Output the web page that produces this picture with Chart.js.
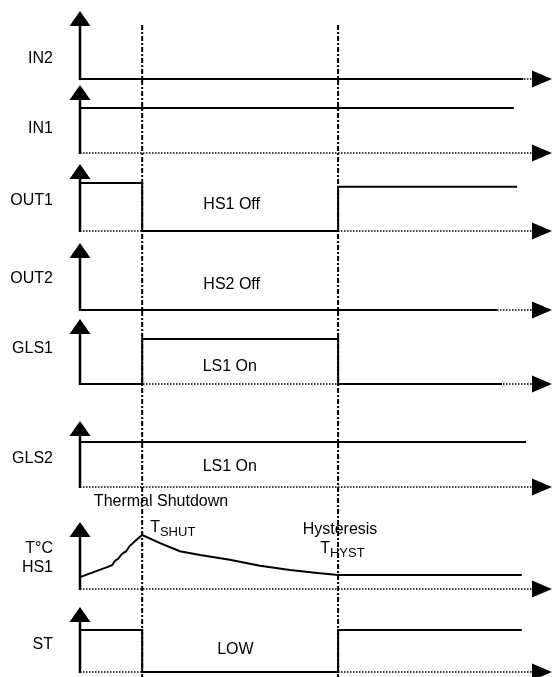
<!DOCTYPE html>
<html>
<head>
<meta charset="utf-8">
<script src="https://cdn.jsdelivr.net/npm/chart.js@4"></script>
<style>
  html, body { margin: 0; padding: 0; background: #fff; }
  #wrap { position: relative; width: 553px; height: 677px; }
</style>
</head>
<body>
<div id="wrap"><canvas id="timing"></canvas></div>
<script>
// time runs 0..100 (arbitrary units), levels: 0 = low, 1 = high
const shutdownTime = 13.2;
const hysteresisTime = 54.8;
const markerTimes = [shutdownTime, hysteresisTime];

const signalNames = [['IN2'], ['IN1'], ['OUT1'], ['OUT2'], ['GLS1'], ['GLS2'], ['T°C', 'HS1'], ['ST']];

const in2Times = [0, 94.1];
const in2Levels = [0, 0];
const in1Times = [0, 92.1];
const in1Levels = [1, 1];
const out1Times = [0, shutdownTime, hysteresisTime, 92.8];
const out1Levels = [1, 0, 0.92, 0.92];
const out2Times = [0, 88.5];
const out2Levels = [0, 0];
const gls1Times = [0, shutdownTime, hysteresisTime, 89.6];
const gls1Levels = [0, 1, 0, 0];
const gls2Times = [0, 94.7];
const gls2Levels = [1, 1];
const tempTimes = [0, 5.9, 6.8, 7.4, 8.1, 8.9, 9.8, 10.6, 11.7, shutdownTime, 17.0, 21.2, 25.5, 31.8, 38.2, 44.6, 49.9, hysteresisTime, 93.8];
const tempLevels = [0.22, 0.41, 0.44, 0.52, 0.56, 0.65, 0.70, 0.80, 0.89, 1, 0.85, 0.70, 0.63, 0.54, 0.43, 0.35, 0.30, 0.26, 0.26];
const stTimes = [0, shutdownTime, hysteresisTime, 93.8];
const stLevels = [1, 0, 1, 1];

// layout: pixel rows of each panel (arrow tip, low level, high level, label baselines)
const CHART_H = 677;
const panels = [
    { id: 'in2',  tip: 11,  base: 79,  high: 54,  labelY: [63] },
    { id: 'in1',  tip: 85,  base: 153, high: 108, labelY: [133] },
    { id: 'out1', tip: 164, base: 231, high: 183, labelY: [205] },
    { id: 'out2', tip: 243, base: 310, high: 262, labelY: [283] },
    { id: 'gls1', tip: 319, base: 384, high: 339, labelY: [353] },
    { id: 'gls2', tip: 421, base: 487, high: 442, labelY: [463] },
    { id: 'temp', tip: 522, base: 589, high: 535, labelY: [553, 572] },
    { id: 'st',   tip: 607, base: 672, high: 630, labelY: [649] }
];

const notes = [
    { panel: 'out1', text: 'HS1 Off', t: 32.2, level: 0.46 },
    { panel: 'out2', text: 'HS2 Off', t: 32.2, level: 0.44 },
    { panel: 'gls1', text: 'LS1 On', t: 31.8, level: 0.29 },
    { panel: 'gls2', text: 'LS1 On', t: 31.8, level: 0.36 },
    { panel: 'st', text: 'LOW', t: 33.0, level: 0.43 },
    { panel: 'temp', text: 'Thermal Shutdown', t: 17.2, level: 1.54 },
    { panel: 'temp', text: 'Hysteresis', t: 55.2, level: 1.02 },
    { panel: 'temp', text: 'T', sub: 'SHUT', t: 14.9, level: 1.06 },
    { panel: 'temp', text: 'T', sub: 'HYST', t: 51.0, level: 0.67 }
];

const FONT = "'Liberation Sans', Arial, sans-serif";

function toPoints(times, levels) {
    return times.map((t, i) => ({ x: t, y: levels[i] }));
}

const series = [
    { id: 'in2', times: in2Times, levels: in2Levels, stepped: 'before' },
    { id: 'in1', times: in1Times, levels: in1Levels, stepped: 'before' },
    { id: 'out1', times: out1Times, levels: out1Levels, stepped: 'before' },
    { id: 'out2', times: out2Times, levels: out2Levels, stepped: 'before' },
    { id: 'gls1', times: gls1Times, levels: gls1Levels, stepped: 'before' },
    { id: 'gls2', times: gls2Times, levels: gls2Levels, stepped: 'before' },
    { id: 'temp', times: tempTimes, levels: tempLevels, stepped: false },
    { id: 'st', times: stTimes, levels: stLevels, stepped: 'before' }
];

const scales = { x: { type: 'linear', min: 0, max: 100, display: false } };
panels.forEach(p => {
    const amp = p.base - p.high;
    scales[p.id] = {
        axis: 'y',
        position: 'left',
        type: 'linear',
        display: false,
        min: (p.base - CHART_H) / amp,
        max: p.base / amp
    };
});

const timingPlugin = {
    id: 'timingDiagram',
    beforeDatasetsDraw(chart) {
        const { ctx } = chart;
        const x = chart.scales.x;
        const x0 = x.getPixelForValue(0);
        const xEnd = x.right - 19;
        ctx.save();
        ctx.strokeStyle = '#000';
        ctx.lineWidth = 1.5;
        ctx.setLineDash([1.5, 1.5]);
        panels.forEach(p => {
            const y = chart.scales[p.id].getPixelForValue(0);
            ctx.beginPath();
            ctx.moveTo(x0, y);
            ctx.lineTo(xEnd, y);
            ctx.stroke();
        });
        ctx.restore();
    },
    afterDatasetsDraw(chart) {
        const { ctx, chartArea } = chart;
        const x = chart.scales.x;
        const x0 = x.getPixelForValue(0);
        ctx.save();
        ctx.fillStyle = '#000';
        ctx.strokeStyle = '#000';

        panels.forEach((p, i) => {
            const y0 = chart.scales[p.id].getPixelForValue(0);
            // vertical axis with arrow head
            ctx.lineWidth = 2.5;
            ctx.beginPath();
            ctx.moveTo(x0, y0 + 1);
            ctx.lineTo(x0, p.tip + 14);
            ctx.stroke();
            ctx.beginPath();
            ctx.moveTo(x0, p.tip);
            ctx.lineTo(x0 + 10.5, p.tip + 15);
            ctx.lineTo(x0 - 10.5, p.tip + 15);
            ctx.closePath();
            ctx.fill();
            // horizontal arrow head
            ctx.beginPath();
            ctx.moveTo(x.right + 1, y0);
            ctx.lineTo(x.right - 19, y0 - 8.5);
            ctx.lineTo(x.right - 19, y0 + 8.5);
            ctx.closePath();
            ctx.fill();
            // signal name
            ctx.font = '16px ' + FONT;
            ctx.textAlign = 'right';
            ctx.textBaseline = 'alphabetic';
            signalNames[i].forEach((line, k) => ctx.fillText(line, 53, p.labelY[k]));
        });

        // shutdown / hysteresis markers
        ctx.lineWidth = 2;
        ctx.setLineDash([5, 2, 2, 2]);
        markerTimes.forEach(t => {
            const px = x.getPixelForValue(t);
            ctx.beginPath();
            ctx.moveTo(px, 25);
            ctx.lineTo(px, chartArea.bottom);
            ctx.stroke();
        });
        ctx.setLineDash([]);

        notes.forEach(n => {
            const px = x.getPixelForValue(n.t);
            const py = chart.scales[n.panel].getPixelForValue(n.level);
            ctx.textBaseline = 'alphabetic';
            if (n.sub) {
                ctx.textAlign = 'left';
                ctx.font = '16px ' + FONT;
                ctx.fillText(n.text, px, py);
                const w = ctx.measureText(n.text).width;
                ctx.font = '13px ' + FONT;
                ctx.fillText(n.sub, px + w, py + 4);
            } else {
                ctx.textAlign = 'center';
                ctx.font = '16px ' + FONT;
                ctx.fillText(n.text, px, py);
            }
        });
        ctx.restore();
    }
};

new Chart(document.getElementById('timing'), {
    type: 'line',
    data: {
        datasets: series.map(s => ({
            data: toPoints(s.times, s.levels),
            yAxisID: s.id,
            stepped: s.stepped,
            tension: 0,
            borderColor: '#000',
            borderWidth: 2,
            pointRadius: 0,
            fill: false,
            clip: false
        }))
    },
    options: {
        responsive: true,
        maintainAspectRatio: false,
        animation: false,
        events: [],
        layout: { padding: { left: 80, right: 2, top: 0, bottom: 0 } },
        scales,
        plugins: {
            legend: { display: false },
            tooltip: { enabled: false }
        }
    },
    plugins: [timingPlugin]
});
</script>
</body>
</html>
